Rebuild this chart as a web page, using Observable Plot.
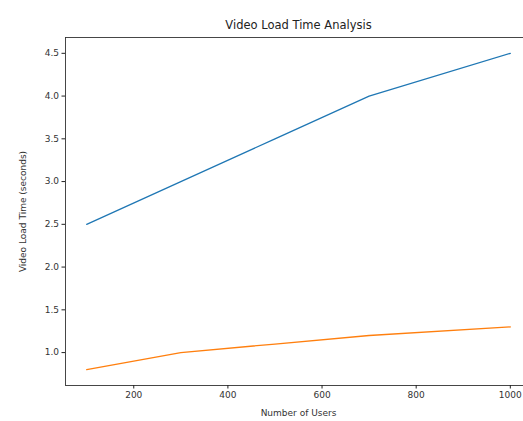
<!DOCTYPE html>
<html>
<head>
<meta charset="utf-8">
<script src="https://cdn.jsdelivr.net/npm/d3@7"></script>
<script src="https://cdn.jsdelivr.net/npm/@observablehq/plot@0.6"></script>
<style>
  html, body { margin: 0; padding: 0; background: white; overflow: hidden; }
  #chart { width: 523px; height: 421px; overflow: hidden; }
</style>
</head>
<body>
<div id="chart"></div>
<script>
const users = [100, 300, 500, 700, 1000];
const loadTimeA = [2.5, 3.0, 3.5, 4.0, 4.5];
const loadTimeB = [0.8, 1.0, 1.1, 1.2, 1.3];
const xTicks = [200, 400, 600, 800, 1000];
const yTicks = [1.0, 1.5, 2.0, 2.5, 3.0, 3.5, 4.0, 4.5];
const seriesNames = ["A", "B"];
const seriesColors = ["#1f77b4", "#ff7f0e"];

const dataA = users.map((u, i) => ({users: u, time: loadTimeA[i]}));
const dataB = users.map((u, i) => ({users: u, time: loadTimeB[i]}));

const font = "DejaVu Sans, sans-serif";

const chart = Plot.plot({
  width: 523,
  height: 421,
  marginLeft: 65,
  marginRight: -8,
  marginTop: 37,
  marginBottom: 36,
  style: {fontFamily: font, fontSize: "9px", color: "#222", background: "white", overflow: "hidden"},
  x: {domain: [55, 1045]},
  y: {domain: [0.615, 4.685]},
  marks: [
    Plot.frame({stroke: "#333", strokeWidth: 0.9}),
    Plot.axisX({ticks: xTicks, tickSize: 3.5, tickPadding: 3, tickFormat: d3.format("d"), fontSize: 9, label: "Number of Users", labelAnchor: "center", labelArrow: "none", labelOffset: 30, fill: "#333"}),
    Plot.axisY({ticks: yTicks, tickSize: 3.5, tickPadding: 3, tickFormat: d3.format(".1f"), fontSize: 9, label: "Video Load Time (seconds)", labelAnchor: "center", labelArrow: "none", labelOffset: 46, fill: "#333"}),
    Plot.line(dataA, {x: "users", y: "time", stroke: seriesColors[0], strokeWidth: 1.3}),
    Plot.line(dataB, {x: "users", y: "time", stroke: seriesColors[1], strokeWidth: 1.3}),
    Plot.text(["Video Load Time Analysis"], {frameAnchor: "top", dy: -17, fontSize: 11.5, fill: "#222", text: d => d})
  ]
});
document.getElementById("chart").appendChild(chart);
</script>
</body>
</html>
